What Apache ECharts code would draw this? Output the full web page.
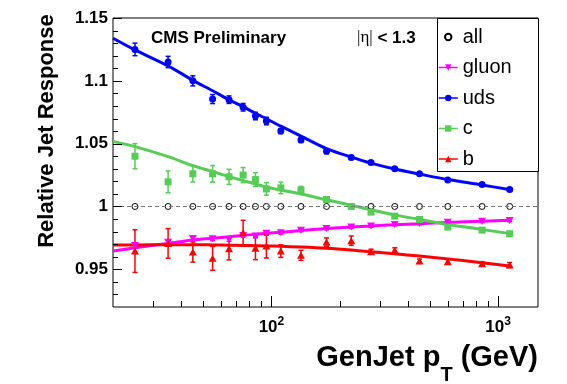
<!DOCTYPE html>
<html>
<head>
<meta charset="utf-8">
<script src="https://cdn.jsdelivr.net/npm/echarts@6/dist/echarts.min.js"></script>
<style>html,body{margin:0;padding:0;background:#fff}#c{width:567px;height:384px}</style>
</head>
<body>
<div id="c"></div>
<script>
// ---- data ----
const pt = [25, 35, 45, 55, 65, 75, 85, 95, 110, 135, 175, 225, 275, 350, 450, 600, 850, 1125];
const allResp = [1.000, 1.000, 1.000, 1.000, 1.000, 1.000, 1.000, 1.000, 1.000, 1.000, 1.000, 1.000, 1.000, 1.000, 1.000, 1.000, 1.000, 1.000];
const gluon = [0.969, 0.9715, 0.9745, 0.9743, 0.9738, 0.977, 0.9765, 0.9786, 0.979, 0.981, 0.9825, 0.9836, 0.9844, 0.9857, 0.9865, 0.9875, 0.9883, 0.9889];
const gluonErr = [0.002, 0.002, 0.0015, 0.0015, 0.0015, 0.0015, 0.0015, 0.0015, 0.001, 0.001, 0.001, 0.001, 0.001, 0.001, 0.001, 0.001, 0.001, 0.001];
const uds = [1.125, 1.115, 1.100, 1.0855, 1.085, 1.079, 1.072, 1.068, 1.060, 1.053, 1.044, 1.039, 1.035, 1.030, 1.026, 1.021, 1.0175, 1.0135];
const udsErr = [0.005, 0.0045, 0.004, 0.0036, 0.003, 0.003, 0.003, 0.003, 0.002, 0.002, 0.002, 0.0015, 0.001, 0.001, 0.001, 0.001, 0.001, 0.001];
const cq = [1.040, 1.0196, 1.026, 1.026, 1.0236, 1.025, 1.0214, 1.014, 1.0148, 1.013, 1.0056, 1.000, 0.9955, 0.9923, 0.9897, 0.9836, 0.9812, 0.9783];
const cqErr = [0.010, 0.0087, 0.0065, 0.0066, 0.006, 0.006, 0.0055, 0.005, 0.0046, 0.003, 0.002, 0.0015, 0.001, 0.001, 0.001, 0.001, 0.001, 0.001];
const bq = [0.9645, 0.9706, 0.9637, 0.9587, 0.9664, 0.979, 0.9667, 0.9685, 0.9645, 0.9611, 0.9717, 0.9728, 0.964, 0.9651, 0.9566, 0.9561, 0.9545, 0.9534];
const bqErr = [0.017, 0.0118, 0.008, 0.0095, 0.0089, 0.010, 0.009, 0.0095, 0.005, 0.004, 0.0033, 0.0037, 0.002, 0.002, 0.0015, 0.0015, 0.0015, 0.002];

// fitted curves
const fitPt = [20, 25, 35, 45, 55, 65, 75, 85, 95, 110, 135, 175, 225, 275, 350, 450, 600, 850, 1150];
const udsFit = [1.1339, 1.1246, 1.1119, 1.1004, 1.0921, 1.0849, 1.0794, 1.0742, 1.0698, 1.0639, 1.056, 1.046, 1.0393, 1.0345, 1.0298, 1.0258, 1.0214, 1.0171, 1.0131];
const cqFit = [1.0518, 1.0476, 1.0397, 1.0325, 1.0278, 1.0238, 1.0206, 1.0179, 1.0155, 1.0131, 1.0099, 1.0053, 1.001, 0.9974, 0.9933, 0.9897, 0.9857, 0.9817, 0.9782];
const gluonFit = [0.9645, 0.9671, 0.9706, 0.9734, 0.9748, 0.976, 0.977, 0.9778, 0.9786, 0.9795, 0.9808, 0.9824, 0.9837, 0.9845, 0.9855, 0.9863, 0.9873, 0.9883, 0.989];
const bqFit = [0.9693, 0.9694, 0.9696, 0.9696, 0.9694, 0.9692, 0.969, 0.9688, 0.9686, 0.9683, 0.9677, 0.9667, 0.9653, 0.9639, 0.9623, 0.9605, 0.9583, 0.9553, 0.9525];

// axes
const X_MIN = 20, X_MAX = 1500, Y_MIN = 0.92, Y_MAX = 1.15;
const xMajorTicks = [100, 1000];
const xMinorTicks = [30, 40, 50, 60, 70, 80, 90, 200, 300, 400, 500, 600, 700, 800, 900];
const yMajorTicks = [0.95, 1.0, 1.05, 1.1, 1.15];
const yMinorTicks = [0.93, 0.94, 0.96, 0.97, 0.98, 0.99, 1.01, 1.02, 1.03, 1.04, 1.06, 1.07, 1.08, 1.09, 1.11, 1.12, 1.13, 1.14];

const FONT = "'Liberation Sans', Arial, Helvetica, sans-serif";
const C_G = '#ff00ff', C_U = '#0000ff', C_C = '#55cc55', C_B = '#ff0000';
const DOWN_TRI = 'path://M0,0 L10,0 L5,9 Z';

const zip = (xs, ys) => xs.map((x, i) => [x, ys[i]]);

function tickSeries(values, axis, len) {
  return {
    type: 'custom', silent: true, z: 6, clip: false,
    data: values.map(v => axis === 'x' ? [v, Y_MIN] : [X_MIN, v]),
    renderItem: (params, api) => {
      const p = api.coord([api.value(0), api.value(1)]);
      const shape = axis === 'x'
        ? { x1: Math.round(p[0]) + 0.5, y1: p[1], x2: Math.round(p[0]) + 0.5, y2: p[1] - len }
        : { x1: p[0], y1: Math.round(p[1]) + 0.5, x2: p[0] + len, y2: Math.round(p[1]) + 0.5 };
      return { type: 'line', shape, style: { stroke: '#000', lineWidth: 1 } };
    }
  };
}

function errSeries(vals, errs, color) {
  return {
    type: 'custom', silent: true, z: 3,
    data: pt.map((x, i) => [x, vals[i] - errs[i], vals[i] + errs[i]]),
    renderItem: (params, api) => {
      const lo = api.coord([api.value(0), api.value(1)]);
      const hi = api.coord([api.value(0), api.value(2)]);
      const st = { stroke: color, lineWidth: 1.5 };
      return {
        type: 'group', children: [
          { type: 'line', shape: { x1: lo[0], y1: lo[1], x2: hi[0], y2: hi[1] }, style: st },
          { type: 'line', shape: { x1: lo[0] - 2.5, y1: lo[1], x2: lo[0] + 2.5, y2: lo[1] }, style: st },
          { type: 'line', shape: { x1: hi[0] - 2.5, y1: hi[1], x2: hi[0] + 2.5, y2: hi[1] }, style: st }
        ]
      };
    }
  };
}

function fitSeries(vals, color) {
  return {
    type: 'line', data: zip(fitPt, vals), smooth: 0.3, showSymbol: false, silent: true, z: 2,
    lineStyle: { color, width: 3 }, itemStyle: { color }
  };
}

function pointSeries(name, vals, symbol, size, itemStyle) {
  return {
    name, type: 'line', data: zip(pt, vals), symbol, symbolSize: size, showAllSymbol: true,
    lineStyle: { width: 0, opacity: 0 }, itemStyle, z: 4, silent: true
  };
}

const chart = echarts.init(document.getElementById('c'), null, { renderer: 'canvas' });
const legendLine = (color) => ({ color, width: 1.5, opacity: 1, type: 'solid' });

chart.setOption({
  animation: false,
  backgroundColor: '#fff',
  textStyle: { fontFamily: FONT },
  grid: { left: 113, right: 29, top: 18, bottom: 77, show: true, borderColor: '#000', borderWidth: 1, backgroundColor: 'transparent' },
  xAxis: {
    type: 'log', logBase: 10, min: X_MIN, max: X_MAX,
    axisLine: { show: false }, axisTick: { show: false }, splitLine: { show: false }, minorTick: { show: false },
    axisLabel: {
      margin: 9, showMinLabel: true, showMaxLabel: true,
      formatter: (v) => {
        const e = Math.round(Math.log10(v));
        return Math.abs(v - Math.pow(10, e)) / v < 1e-6 ? '{b|10}{s|' + e + '}' : '';
      },
      rich: {
        b: { fontSize: 17, fontWeight: 'bold', fontFamily: FONT, color: '#000' },
        s: { fontSize: 12, fontWeight: 'bold', fontFamily: FONT, color: '#000', padding: [0, 0, 10, 0] }
      }
    }
  },
  yAxis: {
    type: 'value', min: Y_MIN, max: Y_MAX,
    axisLine: { show: false }, axisTick: { show: false }, splitLine: { show: false },
    axisLabel: {
      margin: 5, color: '#000', fontSize: 17, fontWeight: 'bold', fontFamily: FONT,
      formatter: (v) => {
        const k = Math.round(v / 0.05);
        return Math.abs(v - k * 0.05) < 1e-6 ? String(+v.toFixed(2)) : '';
      }
    }
  },
  legend: {
    orient: 'vertical', left: 438, top: 27, padding: 0, itemGap: 10.5,
    itemWidth: 19, itemHeight: 8, selectedMode: false, z: 10,
    textStyle: { fontSize: 20, color: '#000', fontFamily: FONT },
    data: [
      { name: 'all', lineStyle: { width: 0, opacity: 0 } },
      { name: 'gluon', lineStyle: legendLine(C_G) },
      { name: 'uds', lineStyle: legendLine(C_U) },
      { name: 'c', lineStyle: legendLine(C_C) },
      { name: 'b', lineStyle: legendLine(C_B) }
    ]
  },
  graphic: [
    { type: 'rect', z: 8, shape: { x: 437.5, y: 18.5, width: 101, height: 153 }, style: { fill: '#fff', stroke: '#000', lineWidth: 1 } },
    { type: 'text', z: 9, x: 151, y: 38, style: { text: 'CMS Preliminary', fontSize: 17, fontWeight: 'bold', fontFamily: FONT, fill: '#000', verticalAlign: 'middle' } },
    { type: 'text', z: 9, x: 357, y: 38, style: {
        text: '{e|\u007C\u03B7\u007C}{r| < 1.3}', verticalAlign: 'middle',
        rich: { e: { fontSize: 17, fontFamily: "'Liberation Serif', serif", fill: '#000' },
                r: { fontSize: 17, fontWeight: 'bold', fontFamily: FONT, fill: '#000' } } } },
    { type: 'text', z: 9, x: 47, y: 131, rotation: Math.PI / 2, style: {
        text: 'Relative Jet Response', fontSize: 22, fontWeight: 'bold', fontFamily: FONT, fill: '#000', align: 'center', verticalAlign: 'middle' } },
    { type: 'text', z: 9, x: 538, y: 358, style: {
        text: '{a|GenJet p}{t|T}{a| (GeV)}', align: 'right', verticalAlign: 'middle',
        rich: { a: { fontSize: 29, fontWeight: 'bold', fontFamily: FONT, fill: '#000' },
                t: { fontSize: 20, fontWeight: 'bold', fontFamily: FONT, fill: '#000', padding: [34, 0, 0, 0] } } } }
  ],
  series: [
    Object.assign(pointSeries('all', allResp, 'circle', 6, { color: 'rgba(0,0,0,0)', borderColor: '#000', borderWidth: 1 }), {
      markLine: { silent: true, symbol: 'none', label: { show: false },
        lineStyle: { color: '#777', type: [4, 3], width: 1 }, data: [{ yAxis: 1 }] }
    }),
    fitSeries(gluonFit, C_G),
    fitSeries(udsFit, C_U),
    fitSeries(cqFit, C_C),
    fitSeries(bqFit, C_B),
    errSeries(gluon, gluonErr, C_G),
    errSeries(uds, udsErr, C_U),
    errSeries(cq, cqErr, C_C),
    errSeries(bq, bqErr, C_B),
    pointSeries('gluon', gluon, DOWN_TRI, [8, 7], { color: C_G }),
    pointSeries('uds', uds, 'circle', 7, { color: C_U }),
    pointSeries('c', cq, 'rect', 7, { color: C_C }),
    pointSeries('b', bq, 'triangle', [8, 7], { color: C_B }),
    tickSeries(xMajorTicks, 'x', 11),
    tickSeries(xMinorTicks, 'x', 6),
    tickSeries(yMajorTicks, 'y', 9),
    tickSeries(yMinorTicks, 'y', 5)
  ]
});
</script>
</body>
</html>
